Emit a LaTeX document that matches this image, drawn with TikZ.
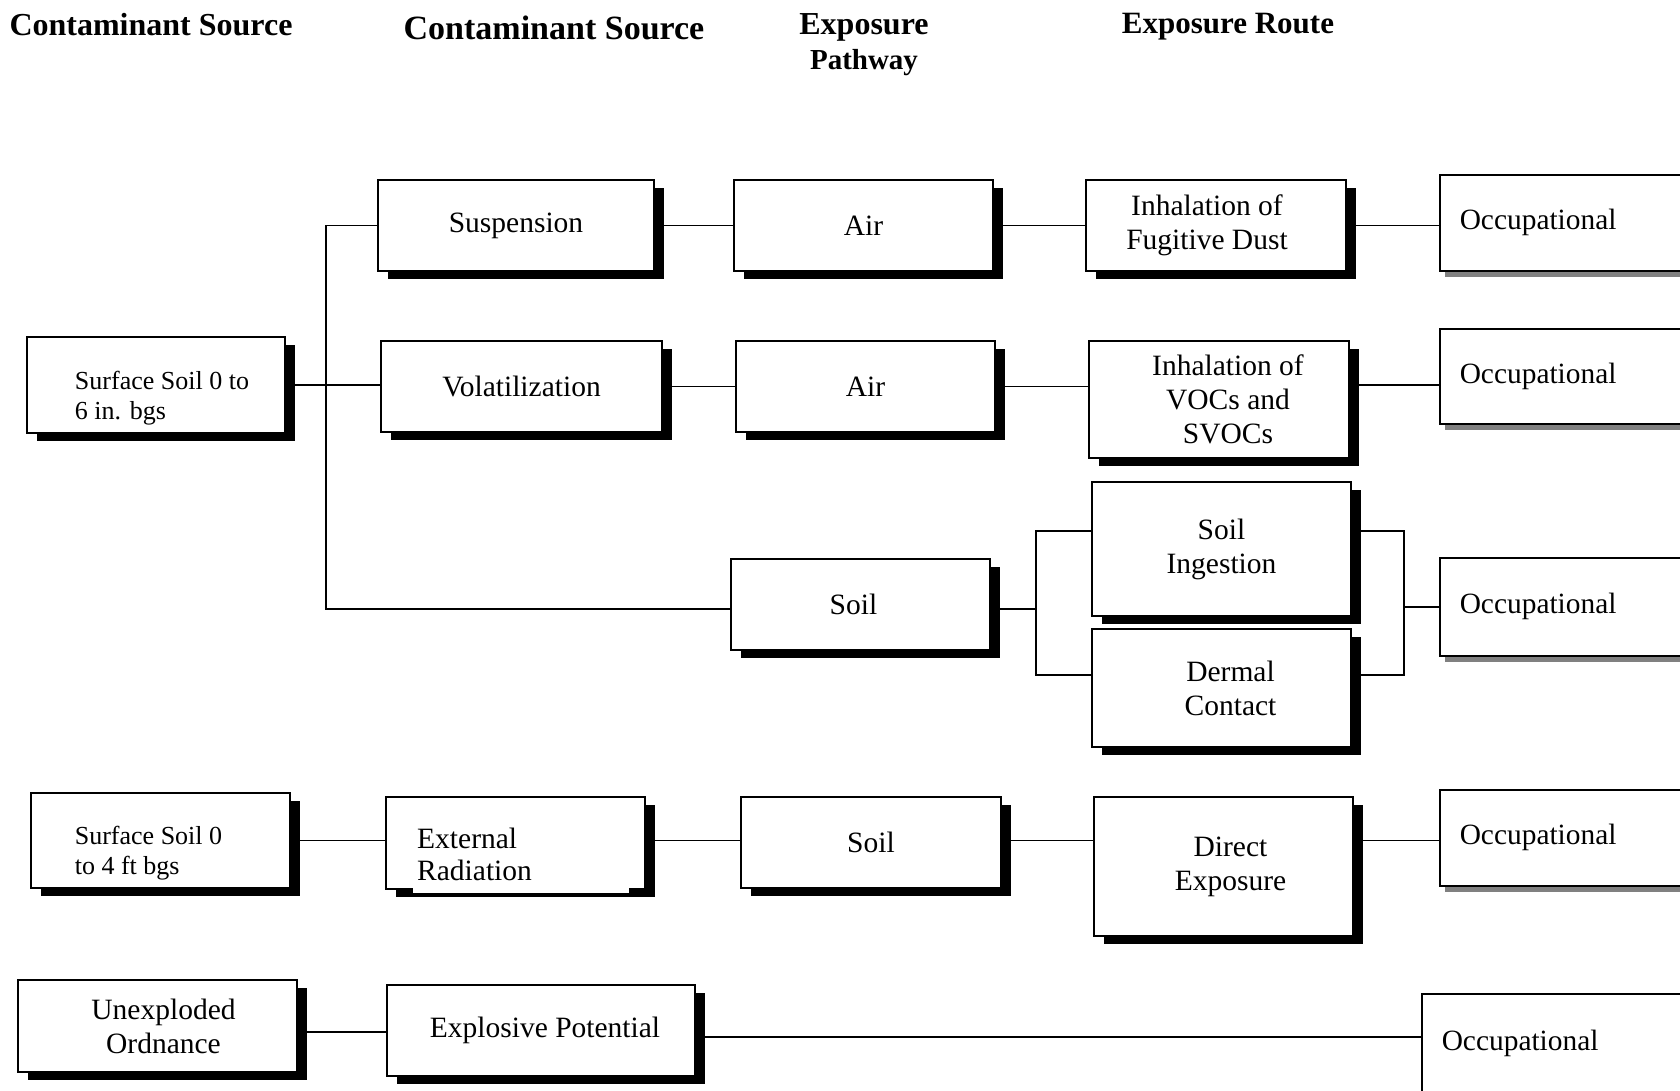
\documentclass[tikz,border=0pt]{standalone}
\usepackage{fontspec}
\setmainfont{Liberation Serif}
\usetikzlibrary{shadows}

\tikzset{
	box/.style 2 args={draw, line width=1.5pt, fill=white, inner sep=4pt, align=center,
		minimum width=#1pt, minimum height=#2pt, font=\fontsize{29.5}{34}\selectfont,
		drop shadow={shadow xshift=10pt, shadow yshift=-8pt, fill=black, opacity=1}},
	occbox/.style={draw, line width=1.5pt, fill=white, anchor=north west, minimum width=330pt,
		minimum height=#1pt, text width=290pt, inner xsep=20pt, align=left,
		font=\fontsize{29.4}{34}\selectfont,
		drop shadow={shadow xshift=5pt, shadow yshift=-6pt, fill=gray, opacity=1}},
	head/.style={font=\bfseries\fontsize{#1}{35}\selectfont, align=center},
	link/.style={line width=1.5pt}
}

\begin{document}
\begin{tikzpicture}[x=1pt, y=-1pt]
		\useasboundingbox (0,0) rectangle (1680,1090);
		\clip (0,0) rectangle (1680,1090);
		% column heads
		\node[head=32] (hsrcA) at (151,25) {Contaminant Source};
		\node[head=34] (hsrcB) at (554,28) {Contaminant Source};
		\node[head=29] (hpath) at (864,45) {{\fontsize{32}{35}\selectfont Exposure}\\Pathway};
		\node[head=31] (hroute) at (1228,27) {Exposure Route};
		% surface soil 0 to 6 in.
		\node[box={258}{96}, align=left, font=\fontsize{26}{30}\selectfont] (surfA) at (156,385) {\hspace*{12pt}\rule{0pt}{44pt}Surface Soil 0 to\\\hspace*{12pt}6 in. bgs};
		\node[box={276}{91}] (susp) at (516,225.5) {Suspension};
		\node[box={281}{91}] (volat) at (521.5,386.5) {Volatilization};
		\node[box={259}{91}] (airA) at (863.5,225.5) {Air};
		\node[box={259}{91}] (airB) at (865.5,386.5) {Air};
		\node[box={259}{91}] (soilA) at (860.5,604.5) {Soil\hspace*{14pt}};
		\node[box={260}{91}] (dust) at (1216,225.5) {Inhalation of\hspace*{18pt}\\Fugitive Dust\hspace*{18pt}};
		\node[box={260}{117}] (vocs) at (1219,399.5) {\hspace*{18pt}Inhalation of\\\hspace*{18pt}VOCs and\\\hspace*{18pt}SVOCs};
		\node[box={259}{134}] (ingest) at (1221.5,549) {Soil\\Ingestion};
		\node[box={259}{118}] (dermal) at (1221.5,688) {\hspace*{18pt}Dermal\\\hspace*{18pt}Contact};
		\node[occbox=96] (occA) at (1439,174) {Occupational};
		\node[occbox=95] (occB) at (1439,328) {Occupational};
		\node[occbox=98] (occC) at (1439,557) {Occupational};
		% surface soil 0 to 4 ft
		\node[box={259}{95}, align=left, font=\fontsize{26}{30}\selectfont] (surfB) at (160.5,840.5) {\rule{0pt}{44pt}Surface Soil 0\hspace*{24pt}\\to 4 ft bgs};
		\node[box={259}{92}] (extrad) at (515.5,843) {};
		\node[fill=white, anchor=south west, inner xsep=4pt, inner ysep=0pt, minimum height=76pt,
			text width=208pt, align=left, font=\fontsize{29.5}{32}\selectfont] (extradtxt) at (413,893) {External\\Radiation};
		\node[box={260}{91}] (soilB) at (871,842.5) {Soil};
		\node[box={259}{139}] (direct) at (1223.5,866.5) {\hspace*{14pt}Direct\\\hspace*{14pt}Exposure};
		\node[occbox=96] (occD) at (1439,789) {Occupational};
		% unexploded ordnance
		\node[box={279}{92}] (uxo) at (157.5,1026) {\hspace*{12pt}Unexploded\\\hspace*{12pt}Ordnance};
		\node[box={308}{91}] (explpot) at (541,1030.5) {\hspace*{8pt}Explosive Potential};
		\node[occbox=100] (occE) at (1421,993) {Occupational};
		% branches
		\coordinate (trunk) at (326,385);
		\coordinate (soilin) at (326,609);
		\coordinate (ltop) at (1036,531);
		\coordinate (lbot) at (1036,675);
		\coordinate (rtop) at (1404,531);
		\coordinate (rbot) at (1404,675);
		\coordinate (uxoline) at (0,1032);
		\coordinate (expline) at (0,1037);
		\draw[link] (surfA.east) -- (surfA.east -| volat.west);
		\draw[link] (susp.west) -| (trunk) -- (soilin) -- (soilin -| soilA.west);
		\draw[link] (susp.east) -- (airA.west);
		\draw[link] (volat.east) -- (volat.east -| airB.west);
		\draw[link] (airA.east) -- (dust.west);
		\draw[link] (airB.east) -- (airB.east -| vocs.west);
		\draw[link] (dust.east) -- (dust.east -| occA.west);
		\draw[link] (vocs.east |- trunk) -- (occB.west |- trunk);
		\draw[link] (soilA.east |- soilin) -- (ltop |- soilin);
		\draw[link] (ingest.west |- ltop) -- (ltop) -- (lbot) -- (dermal.west |- lbot);
		\draw[link] (ingest.east |- rtop) -- (rtop) -- (rbot) -- (dermal.east |- rbot);
		\draw[link] (rtop |- occC.west) -- (occC.west);
		\draw[link] (surfB.east) -- (surfB.east -| extrad.west);
		\draw[link] (extrad.east |- surfB.east) -- (soilB.west |- surfB.east);
		\draw[link] (soilB.east |- surfB.east) -- (direct.west |- surfB.east);
		\draw[link] (direct.east |- surfB.east) -- (occD.west |- surfB.east);
		\draw[link] (uxo.east |- uxoline) -- (explpot.west |- uxoline);
		\draw[link] (explpot.east |- expline) -- (occE.west |- expline);
	\end{tikzpicture}
\end{document}
